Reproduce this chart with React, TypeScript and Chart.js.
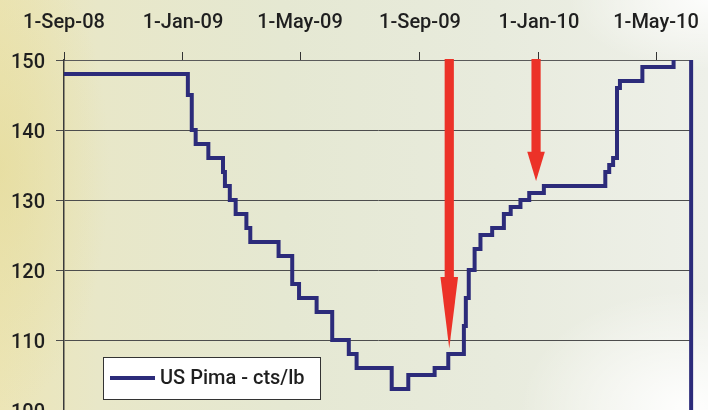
import React, { useEffect, useRef } from 'react';
import { Chart, registerables } from 'chart.js';

Chart.register(...registerables);

// Day offsets counted from 1-Sep-08; each entry is the day a new price took effect.
const changeDays = [
  0, 127, 131, 135, 148, 163, 165, 170, 176, 187, 191, 220, 234, 241, 259, 275,
  292, 300, 336, 353, 380, 394, 410, 412, 415, 421, 427, 439, 451, 458, 468, 477,
  492, 555, 559, 563, 567, 570, 593, 625, 643,
];
// US Pima price (cents per lb) from each change day onward.
const pimaPrices = [
  148, 145, 140, 138, 136, 134, 132, 130, 128, 126, 124, 122, 118, 116, 114, 110,
  108, 106, 103, 105, 106, 108, 112, 116, 120, 123, 125, 126, 128, 129, 130, 131,
  132, 134, 135, 136, 146, 147, 149, 152, 0,
];

const seriesLabel = 'US Pima - cts/lb';

// Axis ticks along the top (day offsets and their labels).
const tickDays = [0, 122, 242, 365, 487, 607];
const tickLabels = ['1-Sep-08', '1-Jan-09', '1-May-09', '1-Sep-09', '1-Jan-10', '1-May-10'];
const lastDay = 644.4;

const priceMin = 100;
const priceMax = 150;
const priceStep = 10;

// Highlight arrows: day, price where the head starts, price at the tip.
const arrowDays = [395, 484];
const arrowHeadFrom = [119, 136.9];
const arrowTipAt = [108.8, 132.7];

const FONT = 'Roboto, "Liberation Sans", Arial, sans-serif';
const FONT_SIZE = 20;
const FONT_WEIGHT = 500;
const NAVY = '#2c2b7a';
const RED = '#ec3228';
const TEXT = '#1f1f1f';

const arrowPlugin = {
  id: 'arrows',
  afterDatasetsDraw(chart: any) {
    const { ctx, chartArea } = chart;
    const xs = chart.scales.x;
    const ys = chart.scales.y;
    ctx.save();
    ctx.fillStyle = RED;
    arrowDays.forEach((d, i) => {
      const x = xs.getPixelForValue(d);
      const top = chartArea.top - 1;
      const headY = ys.getPixelForValue(arrowHeadFrom[i]);
      const tipY = ys.getPixelForValue(arrowTipAt[i]);
      const shaft = 4.6;
      const head = 8.8;
      ctx.fillRect(x - shaft, top, shaft * 2, headY - top + 1);
      ctx.beginPath();
      ctx.moveTo(x - head, headY);
      ctx.lineTo(x + head, headY);
      ctx.lineTo(x, tipY);
      ctx.closePath();
      ctx.fill();
    });
    ctx.restore();
  },
};

const legendPlugin = {
  id: 'boxLegend',
  afterDraw(chart: any) {
    const { ctx, chartArea } = chart;
    const ds = chart.data.datasets[0];
    const left = chartArea.left + 39;
    const top = chartArea.bottom - 53;
    const w = 217;
    const h = 42;
    ctx.save();
    ctx.fillStyle = '#ffffff';
    ctx.fillRect(left, top, w, h);
    ctx.strokeStyle = '#333333';
    ctx.lineWidth = 1;
    ctx.strokeRect(left + 0.5, top + 0.5, w, h);
    const cy = top + 21;
    ctx.strokeStyle = ds.borderColor;
    ctx.lineWidth = 4;
    ctx.beginPath();
    ctx.moveTo(left + 7, cy);
    ctx.lineTo(left + 52, cy);
    ctx.stroke();
    ctx.fillStyle = TEXT;
    ctx.font = `${FONT_WEIGHT} ${FONT_SIZE}px ${FONT}`;
    ctx.textBaseline = 'middle';
    ctx.textAlign = 'left';
    ctx.fillText(ds.label, left + 57, cy + 1);
    ctx.restore();
  },
};

export default function App() {
  const canvasRef = useRef<HTMLCanvasElement | null>(null);

  useEffect(() => {
    if (!canvasRef.current) return;
    const points = changeDays.map((d, i) => ({ x: d, y: pimaPrices[i] }));
    const chart = new Chart(canvasRef.current, {
      type: 'line',
      data: {
        datasets: [
          {
            label: seriesLabel,
            data: points,
            borderColor: NAVY,
            borderWidth: 4,
            pointRadius: 0,
            stepped: 'before',
            fill: false,
            clip: { left: 0, top: 0, right: 8, bottom: 0 } as any,
          },
        ],
      },
      options: {
        responsive: false,
        animation: false,
        events: [],
        layout: { padding: { left: 0, top: 0, right: 15.5, bottom: 22 } },
        plugins: {
          legend: { display: false },
          tooltip: { enabled: false },
          title: { display: false },
        },
        scales: {
          x: {
            type: 'linear',
            position: 'top',
            min: 0,
            max: lastDay,
            afterBuildTicks(scale: any) {
              scale.ticks = tickDays.map((v) => ({ value: v }));
            },
            afterFit(scale: any) {
              scale.height = 60;
              scale.paddingLeft = 0;
              scale.paddingRight = 0;
            },
            ticks: {
              autoSkip: false,
              maxRotation: 0,
              padding: 17,
              color: TEXT,
              font: { family: FONT, size: FONT_SIZE, weight: FONT_WEIGHT },
              callback: (_v: any, i: number) => tickLabels[i],
            },
            grid: {
              drawOnChartArea: false,
              drawTicks: true,
              tickLength: 8,
              color: '#333333',
              lineWidth: 1,
            },
            border: { display: true, color: '#5a5a5a', width: 1 },
          },
          y: {
            type: 'linear',
            position: 'left',
            min: priceMin,
            max: priceMax,
            afterFit(scale: any) {
              scale.width = 64;
              scale.paddingTop = 0;
              scale.paddingBottom = 0;
            },
            ticks: {
              stepSize: priceStep,
              padding: 11,
              labelOffset: 2.5,
              color: TEXT,
              font: { family: FONT, size: FONT_SIZE, weight: FONT_WEIGHT },
            },
            grid: {
              color: '#4d4d4d',
              lineWidth: 1,
              tickLength: 8,
            },
            border: { display: true, color: '#3a3a3a', width: 1.5 },
          },
        },
      },
      plugins: [arrowPlugin, legendPlugin],
    });
    return () => chart.destroy();
  }, []);

  return (
    <div
      style={{
        position: 'fixed',
        left: 0,
        top: 0,
        width: 708,
        height: 410,
        overflow: 'hidden',
        background: [
          'radial-gradient(ellipse 170px 120px at 690px 410px, rgba(255,255,255,0.95), rgba(255,255,255,0) 100%)',
          'radial-gradient(ellipse 140px 70px at 708px 0px, rgba(255,255,255,0.85), rgba(255,255,255,0) 100%)',
          'radial-gradient(ellipse 110px 240px at 0px 170px, rgba(228,218,150,0.6), rgba(228,218,150,0) 100%)',
          'linear-gradient(90deg, #ece5b6 0%, #e8e7c8 14%, #e5e8d2 40%, #e8ebdd 70%, #eef0e9 100%)',
        ].join(', '),
      }}
    >
      <canvas ref={canvasRef} width={708} height={432} style={{ display: 'block' }} />
    </div>
  );
}
